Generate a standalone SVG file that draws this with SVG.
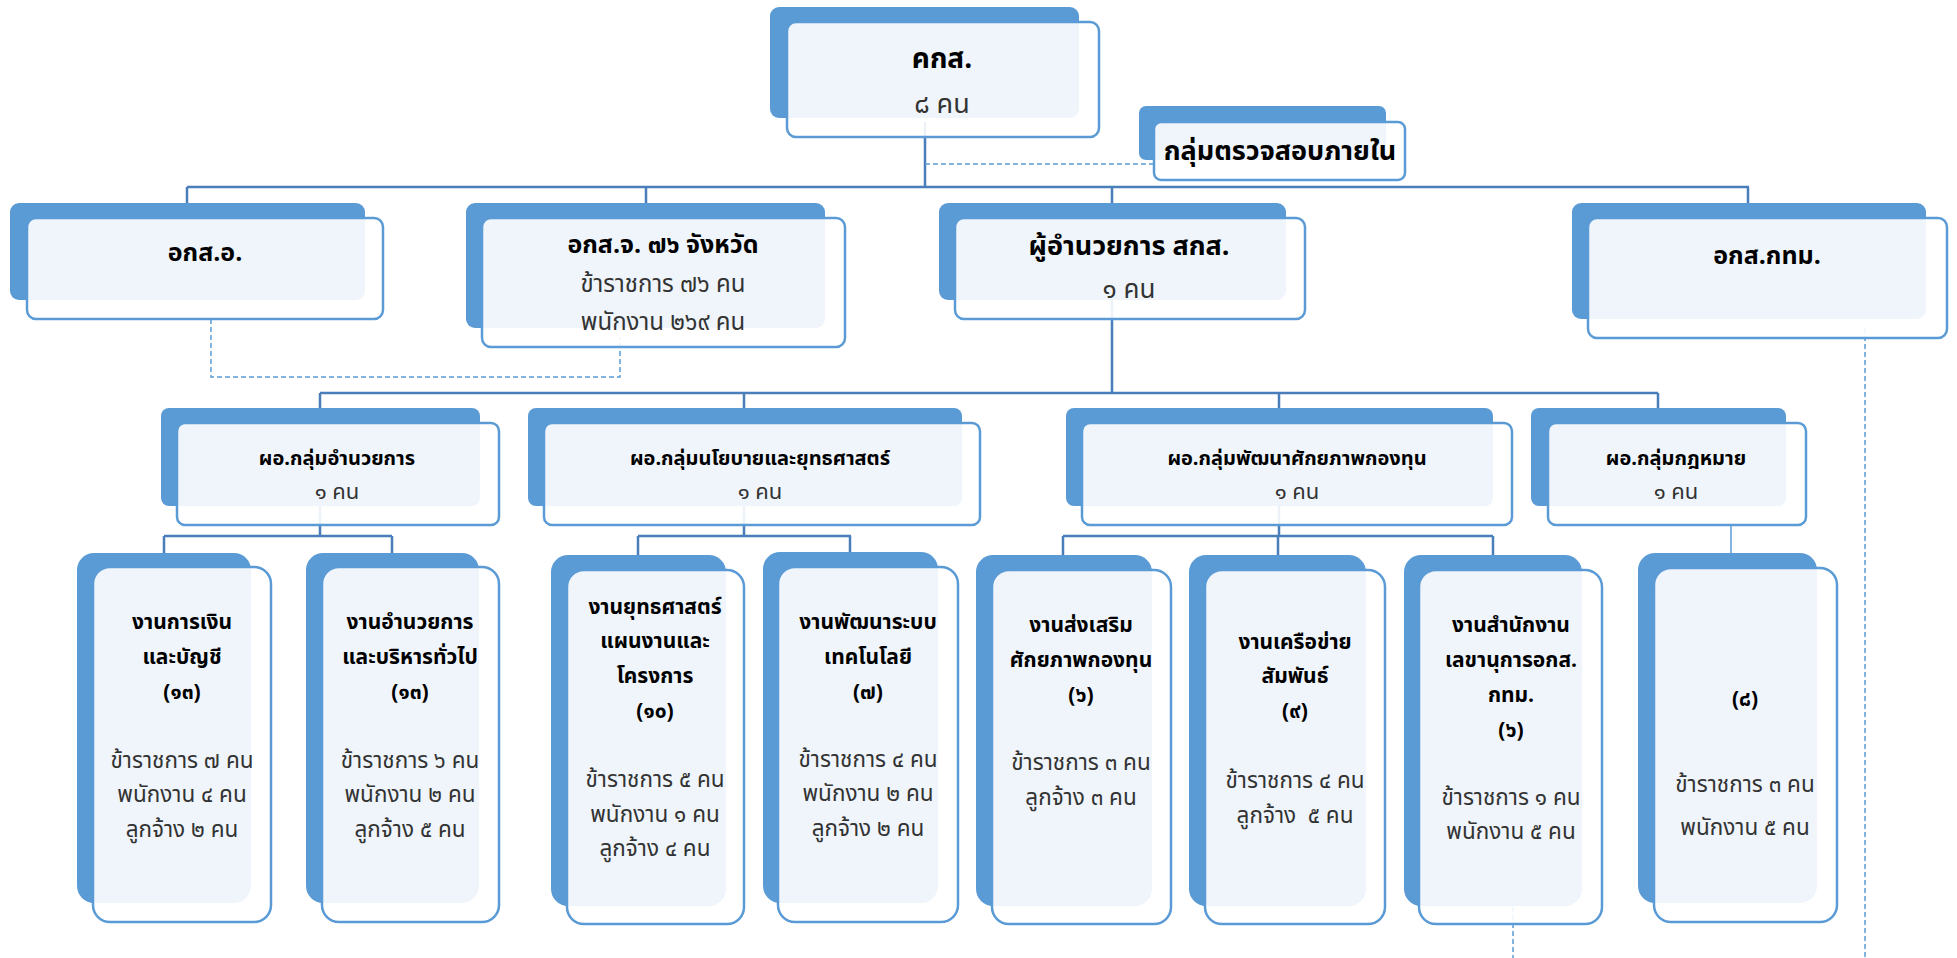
<svg xmlns="http://www.w3.org/2000/svg" width="1957" height="958" viewBox="0 0 1957 958">
<style>
.back{fill:#5B9BD5}
.front{fill:#fff;fill-opacity:0.9;stroke:#5B9BD5;stroke-width:2.5}
text{font-family:"Noto Sans Thai","Noto Sans",sans-serif;text-anchor:middle}
.t{font-weight:bold;fill:#000}
.r{font-weight:normal;fill:#333}
.c{fill:none;stroke:#4A7EBB;stroke-width:2.5}
.thin{fill:none;stroke:#5B9BD5;stroke-width:1.5}
.d{fill:none;stroke:#5B9BD5;stroke-width:1.5;stroke-dasharray:5 3}
.t3{font-size:20px}
.r3{font-size:22px}
.t4{font-size:21px}
.r4{font-size:22.5px}
</style>
<rect width="1957" height="958" fill="#fff"/>
<g id="connectors">
<path class="c" d="M925,122 V187 M187,187 H1749 M187,187 V203 M646,187 V203 M1112,187 V203 M1748,187 V203"/>
<path class="c" d="M1112,300 V393 M320,393 H1658 M320,393 V408 M744,393 V408 M1279,393 V408 M1658,393 V408"/>
<path class="c" d="M320,506 V536 M744,506 V536 M1279,506 V536 M164,536 H392 M638,536 H851 M1063,536 H1493 M164,536 V553 M392,536 V553 M638,536 V555 M850,536 V552 M1063,536 V555 M1278,536 V555 M1493,536 V555"/>
<path class="thin" d="M1731,525 V553"/>
<path class="d" d="M925,164 H1154"/>
<path class="d" d="M211,319 V377 H620 V337"/>
<path class="d" d="M1865,328 V958"/>
<path class="d" d="M1513,907 V958"/>
</g>
<g id="n-kks">
<rect class="back" x="770" y="7" width="309" height="111" rx="9"/>
<rect class="front" x="787" y="22" width="312" height="115" rx="9"/>
<text class="t" x="942" y="68" font-size="28">คกส.</text>
<text class="r" x="942" y="113" font-size="27">๘ คน</text>
</g>
<g id="n-audit">
<rect class="back" x="1139" y="106" width="247" height="54" rx="7"/>
<rect class="front" x="1154" y="122" width="251" height="58" rx="7"/>
<text class="t" x="1280" y="160" font-size="27">กลุ่มตรวจสอบภายใน</text>
</g>
<g id="n-oksao">
<rect class="back" x="10" y="203" width="355" height="97" rx="9"/>
<rect class="front" x="27" y="218" width="356" height="101" rx="9"/>
<text class="t" x="205" y="261" font-size="25">อกส.อ.</text>
</g>
<g id="n-oksaj">
<rect class="back" x="466" y="203" width="359" height="125" rx="9"/>
<rect class="front" x="482" y="218" width="363" height="129" rx="9"/>
<text class="t" x="663" y="253" font-size="25">อกส.จ. ๗๖ จังหวัด</text>
<text class="r" x="663" y="292" font-size="24">ข้าราชการ ๗๖ คน</text>
<text class="r" x="663" y="330" font-size="24">พนักงาน ๒๖๙ คน</text>
</g>
<g id="n-director">
<rect class="back" x="939" y="203" width="347" height="97" rx="9"/>
<rect class="front" x="955" y="218" width="350" height="101" rx="9"/>
<text class="t" x="1129" y="255" font-size="27">ผู้อำนวยการ สกส.</text>
<text class="r" x="1129" y="298" font-size="26">๑ คน</text>
</g>
<g id="n-bkk">
<rect class="back" x="1572" y="203" width="354" height="116" rx="9"/>
<rect class="front" x="1588" y="218" width="359" height="120" rx="9"/>
<text class="t" x="1767" y="264" font-size="25">อกส.กทม.</text>
</g>
<g id="n-g1">
<rect class="back" x="161" y="408" width="319" height="98" rx="8"/>
<rect class="front" x="177" y="423" width="322" height="102" rx="8"/>
<text class="t t3" x="337" y="465">ผอ.กลุ่มอำนวยการ</text>
<text class="r r3" x="337" y="499">๑ คน</text>
</g>
<g id="n-g2">
<rect class="back" x="528" y="408" width="434" height="98" rx="8"/>
<rect class="front" x="544" y="423" width="436" height="102" rx="8"/>
<text class="t t3" x="760" y="465">ผอ.กลุ่มนโยบายและยุทธศาสตร์</text>
<text class="r r3" x="760" y="499">๑ คน</text>
</g>
<g id="n-g3">
<rect class="back" x="1066" y="408" width="427" height="98" rx="8"/>
<rect class="front" x="1082" y="423" width="430" height="102" rx="8"/>
<text class="t t3" x="1297" y="465">ผอ.กลุ่มพัฒนาศักยภาพกองทุน</text>
<text class="r r3" x="1297" y="499">๑ คน</text>
</g>
<g id="n-g4">
<rect class="back" x="1531" y="408" width="255" height="98" rx="8"/>
<rect class="front" x="1548" y="423" width="258" height="102" rx="8"/>
<text class="t t3" x="1676" y="465">ผอ.กลุ่มกฎหมาย</text>
<text class="r r3" x="1676" y="499">๑ คน</text>
</g>
<g id="n-w1">
<rect class="back" x="77" y="553" width="174" height="350" rx="17"/>
<rect class="front" x="93" y="567" width="178" height="355" rx="17"/>
<text class="t t4"><tspan x="182" y="629">งานการเงิน</tspan><tspan x="182" y="664">และบัญชี</tspan><tspan x="182" y="699">(๑๓)</tspan></text>
<text class="r r4"><tspan x="182" y="768">ข้าราชการ ๗ คน</tspan><tspan x="182" y="802">พนักงาน ๔ คน</tspan><tspan x="182" y="837">ลูกจ้าง ๒ คน</tspan></text>
</g>
<g id="n-w2">
<rect class="back" x="306" y="553" width="173" height="350" rx="17"/>
<rect class="front" x="322" y="567" width="177" height="355" rx="17"/>
<text class="t t4"><tspan x="410" y="629">งานอำนวยการ</tspan><tspan x="410" y="664">และบริหารทั่วไป</tspan><tspan x="410" y="699">(๑๓)</tspan></text>
<text class="r r4"><tspan x="410" y="768">ข้าราชการ ๖ คน</tspan><tspan x="410" y="802">พนักงาน ๒ คน</tspan><tspan x="410" y="837">ลูกจ้าง ๕ คน</tspan></text>
</g>
<g id="n-w3">
<rect class="back" x="551" y="555" width="175" height="351" rx="17"/>
<rect class="front" x="567" y="570" width="177" height="354" rx="17"/>
<text class="t t4"><tspan x="655" y="614">งานยุทธศาสตร์</tspan><tspan x="655" y="648">แผนงานและ</tspan><tspan x="655" y="683">โครงการ</tspan><tspan x="655" y="718">(๑๐)</tspan></text>
<text class="r r4"><tspan x="655" y="787">ข้าราชการ ๕ คน</tspan><tspan x="655" y="822">พนักงาน ๑ คน</tspan><tspan x="655" y="856">ลูกจ้าง ๔ คน</tspan></text>
</g>
<g id="n-w4">
<rect class="back" x="763" y="552" width="175" height="351" rx="17"/>
<rect class="front" x="778" y="567" width="180" height="355" rx="17"/>
<text class="t t4"><tspan x="868" y="629">งานพัฒนาระบบ</tspan><tspan x="868" y="664">เทคโนโลยี</tspan><tspan x="868" y="699">(๗)</tspan></text>
<text class="r r4"><tspan x="868" y="767">ข้าราชการ ๔ คน</tspan><tspan x="868" y="801">พนักงาน ๒ คน</tspan><tspan x="868" y="836">ลูกจ้าง ๒ คน</tspan></text>
</g>
<g id="n-w5">
<rect class="back" x="976" y="555" width="176" height="351" rx="17"/>
<rect class="front" x="992" y="570" width="179" height="354" rx="17"/>
<text class="t t4"><tspan x="1081" y="632">งานส่งเสริม</tspan><tspan x="1081" y="667">ศักยภาพกองทุน</tspan><tspan x="1081" y="702">(๖)</tspan></text>
<text class="r r4"><tspan x="1081" y="770">ข้าราชการ ๓ คน</tspan><tspan x="1081" y="805">ลูกจ้าง ๓ คน</tspan></text>
</g>
<g id="n-w6">
<rect class="back" x="1189" y="555" width="177" height="351" rx="17"/>
<rect class="front" x="1205" y="570" width="180" height="354" rx="17"/>
<text class="t t4"><tspan x="1295" y="649">งานเครือข่าย</tspan><tspan x="1295" y="683">สัมพันธ์</tspan><tspan x="1295" y="718">(๙)</tspan></text>
<text class="r r4"><tspan x="1295" y="788">ข้าราชการ ๔ คน</tspan><tspan x="1295" y="823" xml:space="preserve">ลูกจ้าง  ๕ คน</tspan></text>
</g>
<g id="n-w7">
<rect class="back" x="1404" y="555" width="178" height="351" rx="17"/>
<rect class="front" x="1419" y="570" width="183" height="354" rx="17"/>
<text class="t t4"><tspan x="1511" y="632">งานสำนักงาน</tspan><tspan x="1511" y="667">เลขานุการอกส.</tspan><tspan x="1511" y="702">กทม.</tspan><tspan x="1511" y="737">(๖)</tspan></text>
<text class="r r4"><tspan x="1511" y="805">ข้าราชการ ๑ คน</tspan><tspan x="1511" y="839">พนักงาน ๕ คน</tspan></text>
</g>
<g id="n-w8">
<rect class="back" x="1638" y="553" width="179" height="350" rx="17"/>
<rect class="front" x="1654" y="568" width="183" height="354" rx="17"/>
<text class="t t4" x="1745" y="706">(๘)</text>
<text class="r r4"><tspan x="1745" y="792">ข้าราชการ ๓ คน</tspan><tspan x="1745" y="835">พนักงาน ๕ คน</tspan></text>
</g>
</svg>
